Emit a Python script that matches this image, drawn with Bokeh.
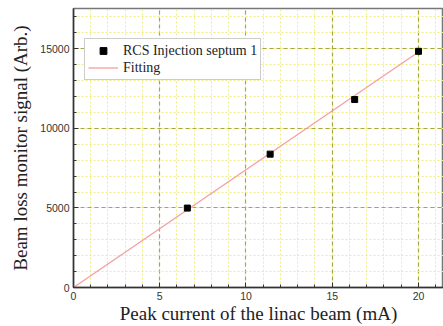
from bokeh.plotting import figure
from bokeh.models import SingleIntervalTicker, Range1d, Legend, LegendItem
from bokeh.embed import file_html
from bokeh.resources import INLINE

# Data
current_mA = [6.6, 11.4, 16.3, 20.0]
blm_signal = [4990, 8380, 11810, 14840]
fit_x = [0.0, 20.0]
fit_y = [0.0, 14800.0]

p = figure(width=443, height=326, output_backend="svg", toolbar_location=None,
           x_range=Range1d(0, 21.45), y_range=Range1d(0, 17530),
           min_border_left=73, min_border_top=8, min_border_right=0, min_border_bottom=37)

p.outline_line_color = "#777777"
p.outline_line_width = 1.5
p.background_fill_color = "white"
p.border_fill_color = "white"

# Axes
p.xaxis.ticker = SingleIntervalTicker(interval=5, num_minor_ticks=5)
p.yaxis.ticker = SingleIntervalTicker(interval=5000, num_minor_ticks=5)
for ax in (p.xaxis, p.yaxis):
    ax.axis_line_color = "#333333"
    ax.axis_line_width = 1.5
    ax.major_tick_in = 5
    ax.major_tick_out = 0
    ax.minor_tick_in = 3
    ax.minor_tick_out = 0
    ax.major_tick_line_color = "#333333"
    ax.minor_tick_line_color = "#333333"
    ax.major_label_text_font = "Liberation Sans"
    ax.major_label_text_font_size = "10.5px"
    ax.major_label_text_color = "#333333"
    ax.axis_label_text_font = "Liberation Serif"
    ax.axis_label_text_font_size = "19px"
    ax.axis_label_text_font_style = "normal"
    ax.axis_label_text_color = "#222222"

p.xaxis.axis_label = "Peak current of the linac beam (mA)"
p.yaxis.axis_label = "Beam loss monitor signal (Arb.)"
p.xaxis.major_label_standoff = 4
p.xaxis.axis_label_standoff = 0
p.yaxis.major_label_standoff = 4
p.yaxis.axis_label_standoff = 6

# Grids
for g in (p.xgrid, p.ygrid):
    g.grid_line_color = "#a8a840"
    g.grid_line_dash = "4 3"
    g.grid_line_width = 1.2
    g.minor_grid_line_color = "#ecec8c"
    g.minor_grid_line_dash = "2 2"
    g.minor_grid_line_width = 1

fit = p.line(fit_x, fit_y, line_color="#f5a0a0", line_width=1.3)
pts = p.scatter(current_mA, blm_signal, marker="square", size=6,
                fill_color="black", line_color="black")

legend = Legend(items=[LegendItem(label="RCS Injection septum 1", renderers=[pts]),
                       LegendItem(label="Fitting", renderers=[fit])])
legend.label_text_font = "Liberation Serif"
legend.label_text_font_size = "14px"
legend.label_text_color = "#222222"
legend.border_line_color = "#999999"
legend.border_line_width = 1.2
legend.background_fill_alpha = 1
legend.margin = 0
legend.padding = 3
legend.spacing = 0
legend.glyph_height = 17
legend.label_height = 17
legend.glyph_width = 30
legend.label_standoff = 5
p.add_layout(legend, "center")
legend.location = (11, 207)

open("out.html", "w").write(file_html(p, INLINE))
